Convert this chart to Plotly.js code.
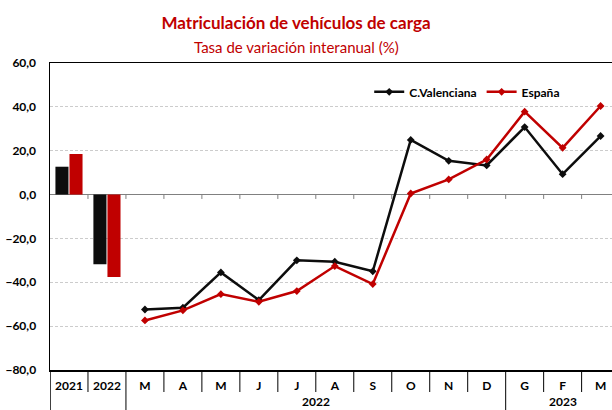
<!DOCTYPE html>
<html>
<head>
<meta charset="utf-8">
<script src="https://cdn.plot.ly/plotly-3.0.1.min.js"></script>
<style>html,body{margin:0;padding:0;background:#fff}#chart{width:612px;height:410px}</style>
</head>
<body>
<div id="chart"></div>
<script>
// ---- data ----
const annualKeys = ['2021', '2022'];
const annualLabels = ['2021', '2022'];
const cvAnnual = [12.7, -31.8];
const esAnnual = [18.5, -37.6];

const monthKeys = ['2022-03','2022-04','2022-05','2022-06','2022-07','2022-08','2022-09','2022-10','2022-11','2022-12','2023-01','2023-02','2023-03'];
const monthLabels = ['M','A','M','J','J','A','S','O','N','D','G','F','M'];
const monthGroups = ['2022','2022','2022','2022','2022','2022','2022','2022','2022','2022','2023','2023','2023'];
const cvMonthly = [-52.4, -51.6, -35.5, -48.1, -30.0, -30.6, -35.0, 24.9, 15.4, 13.3, 30.8, 9.3, 26.7];
const esMonthly = [-57.4, -52.8, -45.4, -48.9, -44.0, -32.6, -40.8, 0.5, 6.9, 16.0, 37.8, 21.3, 40.4];

const seriesNames = ['C.Valenciana', 'España'];
const titleText = 'Matriculación de vehículos de carga';
const subtitleText = 'Tasa de variación interanual (%)';

// ---- styles ----
const BLACK = '#0d0d0d';
const RED = '#c00000';
const FONT = 'Lato, "Open Sans", sans-serif';

const allKeys = annualKeys.concat(monthKeys);
const allLabels = annualLabels.concat(monthLabels);
const allGroups = ['', ''].concat(monthGroups);

const traces = [
  {type: 'bar', x: annualKeys, y: cvAnnual, name: seriesNames[0], marker: {color: BLACK}, showlegend: false, hoverinfo: 'skip'},
  {type: 'bar', x: annualKeys, y: esAnnual, name: seriesNames[1], marker: {color: RED}, showlegend: false, hoverinfo: 'skip'},
  {type: 'scatter', mode: 'lines+markers', x: monthKeys, y: cvMonthly, name: seriesNames[0],
   line: {color: BLACK, width: 2.5}, marker: {symbol: 'diamond', size: 6, color: BLACK}},
  {type: 'scatter', mode: 'lines+markers', x: monthKeys, y: esMonthly, name: seriesNames[1],
   line: {color: RED, width: 2.5}, marker: {symbol: 'diamond', size: 6, color: RED}}
];

// separators between categories (boundaries at index + 0.5)
const shapes = [];
const plotH = 307;
for (let i = 0; i < allKeys.length - 1; i++) {
  const b = i + 0.5;
  const long = allGroups[i] !== allGroups[i + 1];
  shapes.push({type: 'line', xref: 'x', yref: 'y', x0: b, x1: b, y0: 0, y1: -2,
               line: {color: '#7f7f7f', width: 1}});
  shapes.push({type: 'line', xref: 'x', yref: 'paper', x0: b, x1: b, y0: 0,
               y1: long ? -42 / plotH : -22 / plotH, line: {color: '#000', width: 1}});
}
shapes.push({type: 'line', xref: 'x', yref: 'paper', x0: -0.5, x1: -0.5, y0: 0, y1: -42 / plotH,
             line: {color: '#000', width: 1.5}});

// outer-level group labels and subtitle
const annotations = [];
const groupNames = [...new Set(monthGroups)];
groupNames.forEach(g => {
  const idx = allGroups.map((v, i) => v === g ? i : -1).filter(i => i >= 0);
  const c = (idx[0] + idx[idx.length - 1]) / 2;
  annotations.push({xref: 'x', yref: 'paper', x: c, y: -31 / plotH, yanchor: 'middle', xanchor: 'center',
                    text: g, showarrow: false, font: {family: FONT, size: 12, color: '#000', weight: 'bold'}});
});
annotations.push({xref: 'paper', yref: 'paper', x: (296 - 50) / 562, y: 1 + 16 / plotH, xanchor: 'center', yanchor: 'middle',
                  text: subtitleText, showarrow: false, font: {family: FONT, size: 15, color: RED}});

const layout = {
  width: 612, height: 410,
  margin: {l: 50, r: 0, t: 63, b: 40, pad: 0},
  paper_bgcolor: '#fff', plot_bgcolor: '#fff',
  separators: ',.',
  font: {family: FONT, color: '#000'},
  title: {
    text: titleText,
    font: {family: FONT, size: 17, color: RED, weight: 'bold'},
    xref: 'container', x: 296 / 612, xanchor: 'center',
    yref: 'container', y: 1 - 23 / 410, yanchor: 'middle'
  },
  barmode: 'group', bargap: 0.26, bargroupgap: 0.07,
  xaxis: {
    type: 'category', categoryorder: 'array', categoryarray: allKeys,
    tickvals: allKeys, ticktext: allLabels,
    range: [-0.5, 14.3],
    showgrid: false, zeroline: false, ticks: '',
    showline: true, linecolor: '#000', linewidth: 1.5, mirror: true,
    tickfont: {family: FONT, size: 12, color: '#000', weight: 'bold'},
    ticklabelstandoff: 4, fixedrange: true
  },
  yaxis: {
    range: [-80, 60], dtick: 20, tick0: 0, tickformat: '.1f',
    showgrid: true, gridcolor: '#cccccc', gridwidth: 1, griddash: '3px,2px',
    zeroline: true, zerolinecolor: '#808080', zerolinewidth: 1.5,
    showline: true, linecolor: '#000', linewidth: 1.5, mirror: false,
    ticks: '', tickfont: {family: FONT, size: 12, color: '#000', weight: 'bold'},
    ticklabelstandoff: 10, fixedrange: true
  },
  legend: {
    orientation: 'h', xref: 'paper', yref: 'paper', x: 0.568, y: 0.906, xanchor: 'left', yanchor: 'middle',
    font: {family: FONT, size: 12, color: '#000', weight: 'bold'}, bgcolor: 'rgba(0,0,0,0)',
    itemwidth: 30, tracegroupgap: 0
  },
  shapes: shapes,
  annotations: annotations,
  showlegend: true
};

Plotly.newPlot('chart', traces, layout, {displayModeBar: false, staticPlot: true});
</script>
</body>
</html>
